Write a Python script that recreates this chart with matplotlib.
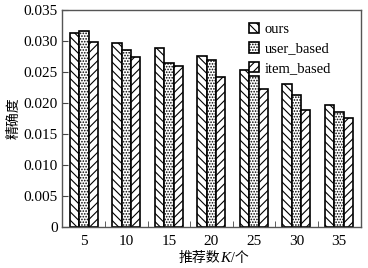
import numpy as np
import matplotlib
matplotlib.use("Agg")
import matplotlib.pyplot as plt

plt.rcParams['font.family'] = ['Liberation Serif', 'Noto Sans CJK SC']
plt.rcParams['hatch.linewidth'] = 0.8

k_values = ["5", "10", "15", "20", "25", "30", "35"]
ours = [0.0313, 0.0296, 0.0289, 0.0275, 0.0253, 0.0230, 0.0196]
user_based = [0.0316, 0.0285, 0.0265, 0.0269, 0.0244, 0.0213, 0.0186]
item_based = [0.0298, 0.0274, 0.0260, 0.0242, 0.0222, 0.0189, 0.0175]
series_names = ["ours", "user_based", "item_based"]

fig = plt.figure(figsize=(3.68, 2.68), dpi=100)
ax = fig.add_axes([0.168, 0.153, 0.813, 0.810])

x = np.arange(1, len(k_values) + 1)
w = 0.22
hatches = ['\\\\\\\\', '......', '////']
for i, (vals, name) in enumerate(zip([ours, user_based, item_based], series_names)):
    ax.bar(x + (i - 1) * w, vals, w, color='white', edgecolor='black',
           linewidth=1.2, hatch=hatches[i], label=name)

ax.set_xlim(0.48, 7.52)
ax.set_ylim(0, 0.035)
ax.set_xticks(x)
ax.set_xticklabels(k_values)
ax.set_xticks(np.arange(1.5, 7, 1), minor=True)
ax.tick_params(axis='x', which='major', length=0, labelsize=11, pad=6)
ax.tick_params(axis='x', which='minor', direction='in', length=4, color='#444444')
yt = np.arange(0, 0.0351, 0.005)
ax.set_yticks(yt)
ax.set_yticklabels(["0"] + ["%.3f" % v for v in yt[1:]])
ax.tick_params(axis='y', direction='in', length=4, labelsize=11, color='#444444', pad=3)

for s in ax.spines.values():
    s.set_color('#555555')
    s.set_linewidth(1.0)

ax.set_ylabel("精确度", fontsize=10, labelpad=2)

# x label built from pieces so K can be italic
t1 = fig.text(0.486, 0.022, "推荐数", fontsize=10, va='baseline', ha='left')
t2 = ax.annotate("K", xycoords=t1, xy=(1, 0), fontsize=11, style='italic',
                 va='bottom', ha='left')
t3 = ax.annotate("/个", xycoords=t2, xy=(1, 0), fontsize=10, va='bottom', ha='left')

ax.legend(loc='upper left', bbox_to_anchor=(0.60, 0.975), frameon=False,
          fontsize=10.5, handlelength=0.7, handleheight=0.7, handletextpad=0.4,
          labelspacing=0.45, borderpad=0)

fig.savefig("out.png", dpi=100)
